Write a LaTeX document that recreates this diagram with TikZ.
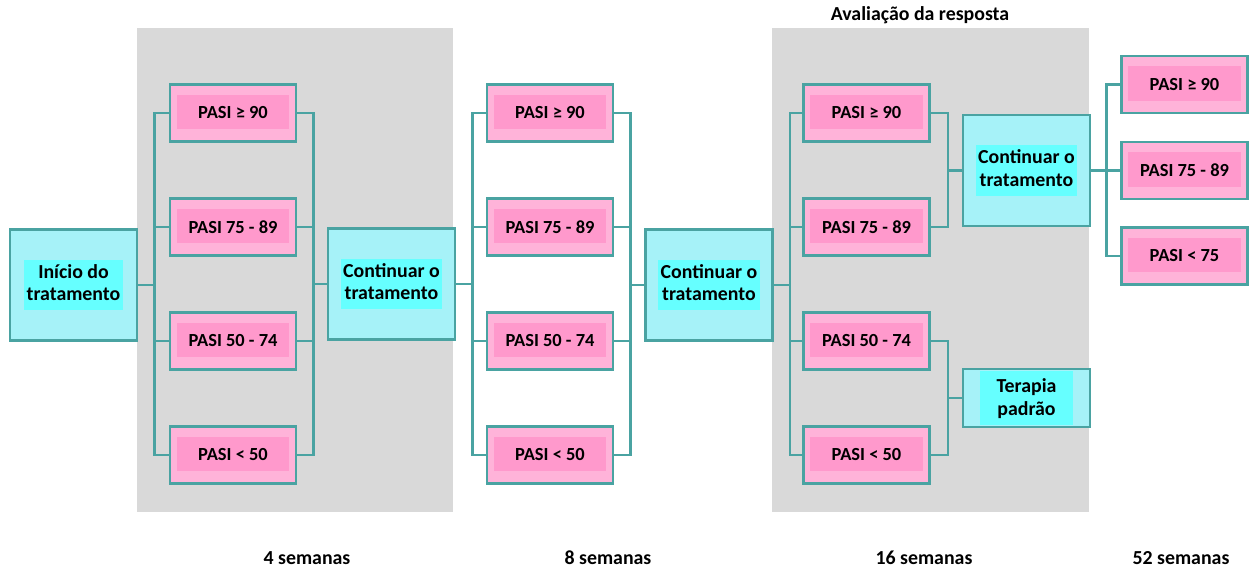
\documentclass[tikz,border=0pt]{standalone}
\usepackage{fontspec}
\setmainfont{Carlito}
\usepackage{tikz}
\usetikzlibrary{calc}
\usepackage{xcolor}
\definecolor{TealLine}{HTML}{4AA3A2}
\definecolor{PinkOut}{HTML}{FFB3D9}
\definecolor{PinkIn}{HTML}{FF99CC}
\definecolor{CyanOut}{HTML}{A6F2F8}
\definecolor{CyanHi}{HTML}{66FFFF}
\definecolor{PanelGray}{HTML}{D9D9D9}

\newcommand{\hilite}[1]{{\setlength\fboxsep{1.5pt}\colorbox{CyanHi}{\begin{tabular}{@{}c@{}}#1\end{tabular}}}}

\tikzset{
  pasi/.style={draw=TealLine, line width=1.6pt, fill=PinkOut,
    minimum width=2.52cm, minimum height=1.14cm, inner sep=0pt,
    font=\fontsize{10.5}{13}\selectfont\bfseries,
    path picture={\fill[PinkIn]
      ($(path picture bounding box.south west)+(0.13cm,0.24cm)$) rectangle
      ($(path picture bounding box.north east)+(-0.13cm,-0.2cm)$);}},
  decision/.style={draw=TealLine, line width=1.6pt, fill=CyanOut,
    minimum width=2.54cm, minimum height=2.22cm, inner sep=0pt,
    font=\fontsize{11.3}{13}\selectfont\bfseries},
  link/.style={draw=TealLine, line width=1.4pt},
  weeks/.style={font=\fontsize{11.3}{13}\selectfont\bfseries}
}

\begin{document}
\begin{tikzpicture}[x=0.02cm, y=-0.02cm]
  \useasboundingbox (0,0) rectangle (1249,571);
  % Gray panels
  \fill[PanelGray] (137,28) rectangle (453,512);
  \fill[PanelGray] (772,28) rectangle (1089,512);
  \node[weeks] (eval) at (920,15) {Avaliação da resposta};

  % Start and decisions
  \node[decision] (start) at (73.5,285) {\hilite{Início do\\tratamento}};
  \node[decision] (c1) at (391.5,284) {\hilite{Continuar o\\tratamento}};
  \node[decision] (c2) at (709,285) {\hilite{Continuar o\\tratamento}};
  \node[decision] (c3) at (1026.5,170.5) {\hilite{Continuar o\\tratamento}};
  \node[decision, minimum height=1.16cm] (tp) at (1026.5,398)
    {\hilite{\rule{0pt}{11pt}\kern8pt Terapia\kern8pt\\padrão\rule[-3pt]{0pt}{3pt}}};

  % PASI columns
  \foreach \c/\x in {1/233, 2/550, 3/866.5}{
    \foreach \r/\y/\lbl in {a/113/PASI ≥ 90, b/227/PASI 75 - 89, c/341/PASI 50 - 74, d/455/PASI < 50}{
      \node[pasi] (p\c\r) at (\x,\y) {\lbl};
    }
  }
  \foreach \r/\y/\lbl in {a/84.5/PASI ≥ 90, b/170.5/PASI 75 - 89, c/256/PASI < 75}{
    \node[pasi] (p4\r) at (1184.5,\y) {\lbl};
  }

  % Connectors
  \foreach \r in {a,b,c,d}{
    \draw[link] (start.east) -- ++(16,0) |- (p1\r.west);
    \draw[link] (p1\r.east) -- ++(16,0) |- (c1.west);
    \draw[link] (c1.east) -- ++(16,0) |- (p2\r.west);
    \draw[link] (p2\r.east) -- ++(16,0) |- (c2.west);
    \draw[link] (c2.east) -- ++(16,0) |- (p3\r.west);
  }
  \foreach \r in {a,b}{
    \draw[link] (p3\r.east) -- ++(17,0) |- (c3.west);
  }
  \foreach \r in {c,d}{
    \draw[link] (p3\r.east) -- ++(17,0) |- (tp.west);
  }
  \foreach \r in {a,b,c}{
    \draw[link] (c3.east) -- ++(15,0) |- (p4\r.west);
  }

  % Time points
  \node[weeks] (w4) at (307,558) {4 semanas};
  \node[weeks] (w8) at (608,558) {8 semanas};
  \node[weeks] (w16) at (924,558) {16 semanas};
  \node[weeks] (w52) at (1181,558) {52 semanas};
\end{tikzpicture}
\end{document}
